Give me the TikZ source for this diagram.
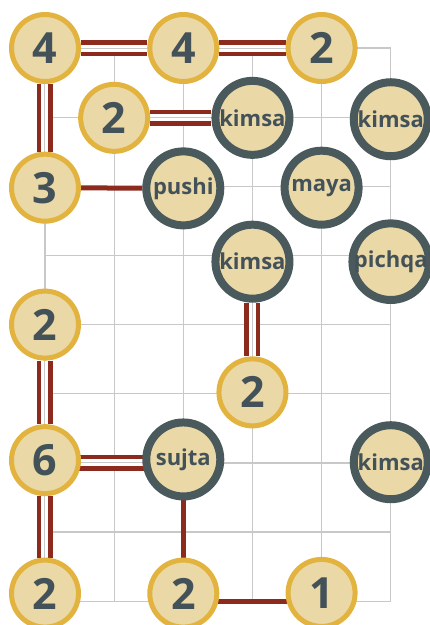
\documentclass[tikz,border=0pt]{standalone}
\usepackage{fontspec}
\setmainfont{Open Sans}
\usetikzlibrary{backgrounds}
\definecolor{sand}{HTML}{EAD8A7}
\definecolor{gold}{HTML}{E2B33E}
\definecolor{slate}{HTML}{4A5A5C}
\definecolor{ink}{HTML}{435258}
\definecolor{rust}{HTML}{8C2A1E}
\definecolor{rule}{HTML}{C8C8C8}

\begin{document}
\begin{tikzpicture}[
  x=69.15pt, y=-69.15pt,
  num/.style={circle, draw=gold, line width=5pt, fill=sand, minimum size=67pt,
              inner sep=0pt, text=ink, font=\fontsize{43}{43}\selectfont\bfseries},
  word/.style={circle, draw=slate, line width=8pt, fill=sand, minimum size=74pt,
               inner sep=0pt, text=ink, font=\fontsize{22}{22}\selectfont\bfseries},
  single/.style={rust, line width=5pt},
  twin/.style={rust, line width=16pt,
               postaction={draw=white, line width=7pt},
               postaction={draw=rule, line width=1pt}},
  gridline/.style={rule, line width=1.2pt}
]
  \useasboundingbox (-45pt,48pt) rectangle (385pt,-577pt);

  % Islands with numbers
  \node[num] (n00) at (0, 0) {4};
  \node[num] (n20) at (2, 0) {4};
  \node[num] (n40) at (4, 0) {2};
  \node[num] (n11) at (1, 1.01) {2};
  \node[num] (n02) at (0, 2.02) {3};
  \node[num] (n04) at (0, 4) {2};
  \node[num] (n35) at (3, 4.98) {2};
  \node[num] (n06) at (0, 5.96) {6};
  \node[num] (n08) at (0, 7.89) {2};
  \node[num] (n28) at (2, 7.89) {2};
  \node[num] (n48) at (4, 7.88) {1};

  % Islands with words
  \node[word] (kimsaA) at (3, 1.01) {kimsa};
  \node[word] (kimsaB) at (5, 1.03) {kimsa};
  \node[word] (pushi) at (2, 2.03) {pushi};
  \node[word] (maya) at (4, 2.02) {maya};
  \node[word] (kimsaC) at (3, 3.09) {kimsa};
  \node[word] (pichqa) at (5, 3.09) {pichqa};
  \node[word] (sujta) at (2, 5.95) {sujta};
  \node[word] (kimsaD) at (5, 5.99) {kimsa};

  \begin{scope}[on background layer]
    % Grid
    \foreach \c in {0,...,5}
      \draw[gridline] (\c, 0) -- (\c, 8);
    \foreach \r in {0,...,8}
      \draw[gridline] (0, \r) -- (5, \r);

    % Bridges
    \draw[twin] (n00) -- (n20);
    \draw[twin] (n20) -- (n40);
    \draw[twin] (n00) -- (n02);
    \draw[twin] (n11) -- (kimsaA);
    \draw[single] (n02) -- (pushi);
    \draw[twin] (kimsaC) -- (n35);
    \draw[twin] (n04) -- (n06);
    \draw[twin] (n06 |- 0,6) -- (sujta |- 0,6);
    \draw[twin] (n06) -- (n08);
    \draw[single] (sujta) -- (n28);
    \draw[single] (n28 |- 0,8) -- (n48 |- 0,8);
  \end{scope}
\end{tikzpicture}
\end{document}
